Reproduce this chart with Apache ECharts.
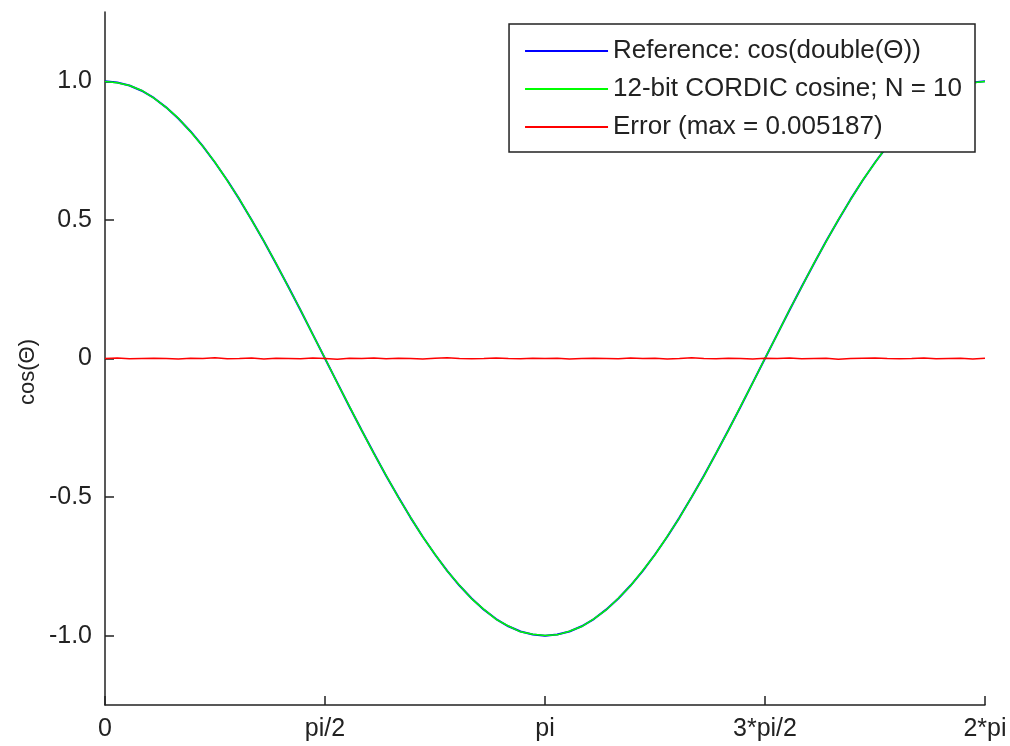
<!DOCTYPE html>
<html>
<head>
<meta charset="utf-8">
<title>CORDIC cosine</title>
<script src="https://cdn.jsdelivr.net/npm/echarts@6/dist/echarts.min.js"></script>
<style>
html,body{margin:0;padding:0;background:#fff;}
#chart{width:1010px;height:746px;}
</style>
</head>
<body>
<div id="chart"></div>
<script>
// angle samples, degrees
var thetaDeg = [0,5,10,15,20,25,30,35,40,45,50,55,60,65,70,75,80,85,90,
    95,100,105,110,115,120,125,130,135,140,145,150,155,160,165,170,175,180,
    185,190,195,200,205,210,215,220,225,230,235,240,245,250,255,260,265,270,
    275,280,285,290,295,300,305,310,315,320,325,330,335,340,345,350,355,360];

var refCos = [1.000,0.996,0.985,0.966,0.940,0.906,0.866,0.819,0.766,0.707,0.643,0.574,0.500,0.423,0.342,0.259,0.174,0.087,0.000,
    -0.087,-0.174,-0.259,-0.342,-0.423,-0.500,-0.574,-0.643,-0.707,-0.766,-0.819,-0.866,-0.906,-0.940,-0.966,-0.985,-0.996,-1.000,
    -0.996,-0.985,-0.966,-0.940,-0.906,-0.866,-0.819,-0.766,-0.707,-0.643,-0.574,-0.500,-0.423,-0.342,-0.259,-0.174,-0.087,0.000,
    0.087,0.174,0.259,0.342,0.423,0.500,0.574,0.643,0.707,0.766,0.819,0.866,0.906,0.940,0.966,0.985,0.996,1.000];

var cordicCos = [0.999,0.995,0.985,0.967,0.939,0.906,0.867,0.818,0.766,0.708,0.642,0.575,0.499,0.423,0.343,0.258,0.175,0.086,0.001,
    -0.088,-0.173,-0.259,-0.343,-0.422,-0.501,-0.573,-0.644,-0.706,-0.767,-0.818,-0.867,-0.905,-0.941,-0.965,-0.986,-0.995,-0.999,
    -0.997,-0.984,-0.967,-0.939,-0.907,-0.865,-0.820,-0.765,-0.708,-0.642,-0.575,-0.499,-0.424,-0.341,-0.260,-0.173,-0.088,0.001,
    0.086,0.175,0.258,0.343,0.422,0.501,0.573,0.644,0.706,0.767,0.818,0.867,0.905,0.941,0.965,0.986,0.995,0.999];

var errVals = [0.000,0.002,-0.001,0.000,0.001,0.000,-0.002,0.001,0.000,0.003,-0.001,0.000,0.002,-0.002,0.001,0.000,-0.001,0.002,0.000,
    -0.003,0.001,0.000,0.002,-0.001,0.001,0.000,-0.002,0.001,0.003,0.000,-0.001,0.000,0.002,0.000,-0.001,0.001,0.000,
    0.001,-0.002,0.000,0.001,0.000,-0.001,0.002,0.000,0.001,-0.002,0.000,0.003,0.000,-0.001,0.001,0.000,-0.002,0.001,
    0.000,0.002,-0.001,0.000,0.001,-0.003,0.000,0.001,0.002,0.000,-0.001,0.000,0.002,-0.001,0.000,0.001,-0.002,0.001];

// x ticks in units of pi
var xTicks = [0, 0.5, 1, 1.5, 2];
var xTickLabels = ['0', 'pi/2', 'pi', '3*pi/2', '2*pi'];
var yTicks = [-1, -0.5, 0, 0.5, 1];
var yTickLabels = ['-1.0', '-0.5', '0', '0.5', '1.0'];

var seriesNames = ['Reference: cos(double(\u0398))', '12-bit CORDIC cosine; N = 10', 'Error (max = 0.005187)'];

function pairs(ys){
    var out = [];
    for (var i = 0; i < thetaDeg.length; i++) out.push([thetaDeg[i] / 180, ys[i]]);
    return out;
}

var font = '"Liberation Sans", Arial, sans-serif';
var chart = echarts.init(document.getElementById('chart'));

var option = {
    animation: false,
    backgroundColor: '#fff',
    grid: {left: 105, right: 25, top: 12, bottom: 41},
    legend: {
        data: seriesNames,
        orient: 'vertical',
        right: 35,
        top: 24,
        padding: [14, 13, 12, 16],
        icon: 'rect',
        itemWidth: 83,
        itemHeight: 2,
        itemGap: 12,
        selectedMode: false,
        backgroundColor: '#fff',
        borderColor: '#222',
        borderWidth: 1.5,
        textStyle: {fontFamily: font, fontSize: 26, lineHeight: 26, color: '#222'}
    },
    xAxis: {
        type: 'value',
        min: 0,
        max: 2,
        splitLine: {show: false},
        axisLine: {onZero: false, lineStyle: {color: '#222', width: 1.5}},
        axisTick: {inside: true, length: 9, customValues: xTicks, lineStyle: {color: '#222', width: 1.5}},
        axisLabel: {
            customValues: xTicks,
            margin: 12,
            fontFamily: font, fontSize: 25, color: '#222',
            formatter: function(v){ return xTickLabels[xTicks.indexOf(v)]; }
        }
    },
    yAxis: {
        type: 'value',
        min: -1.25,
        max: 1.25,
        splitLine: {show: false},
        axisLine: {onZero: false, lineStyle: {color: '#222', width: 1.5}},
        axisTick: {inside: true, length: 9, customValues: yTicks, lineStyle: {color: '#222', width: 1.5}},
        axisLabel: {
            customValues: yTicks,
            margin: 13,
            fontFamily: font, fontSize: 25, color: '#222',
            formatter: function(v){ return yTickLabels[yTicks.indexOf(v)]; }
        }
    },
    graphic: [{
        type: 'text',
        x: 28,
        y: 372,
        rotation: Math.PI / 2,
        style: {
            text: 'cos(\u0398)',
            x: 0, y: 0,
            align: 'center',
            verticalAlign: 'middle',
            font: '22px "Liberation Sans", Arial, sans-serif',
            fill: '#222'
        }
    }],
    series: [
        {
            name: seriesNames[0],
            type: 'line',
            data: pairs(refCos),
            symbol: 'none',
            lineStyle: {color: '#0000ff', width: 2},
            itemStyle: {color: '#0000ff'}
        },
        {
            name: seriesNames[1],
            type: 'line',
            data: pairs(cordicCos),
            symbol: 'none',
            lineStyle: {color: '#00ff00', width: 1.5},
            itemStyle: {color: '#00ff00'}
        },
        {
            name: seriesNames[2],
            type: 'line',
            data: pairs(errVals),
            symbol: 'none',
            lineStyle: {color: '#ff0000', width: 1.5},
            itemStyle: {color: '#ff0000'}
        }
    ]
};

chart.setOption(option);
</script>
</body>
</html>
